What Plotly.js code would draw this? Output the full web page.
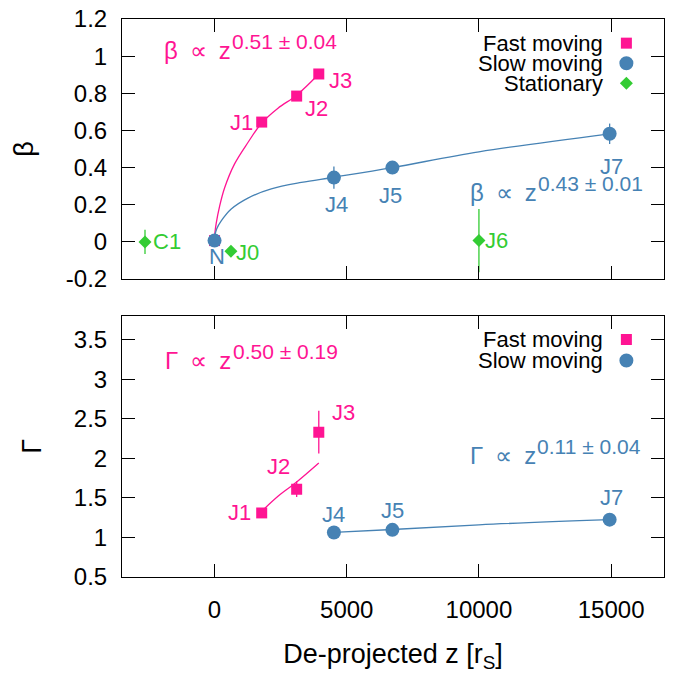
<!DOCTYPE html>
<html>
<head>
<meta charset="utf-8">
<script src="https://cdn.plot.ly/plotly-3.0.1.min.js"></script>
<style>html,body{margin:0;padding:0;background:#fff}</style>
</head>
<body>
<div id="chart" style="width:678px;height:679px"></div>
<script>
// ---------- data ----------
// top panel: beta
const fastNames = ['N', 'J1', 'J2', 'J3'];
const fastZ = [0, 1784, 3106, 3943];
const fastBeta = [0.007, 0.645, 0.785, 0.904];
const fastBetaErr = [0, 0.01, 0.01, 0.01];

const slowNames = ['N', 'J4', 'J5', 'J7'];
const slowZ = [0, 4515, 6727, 14944];
const slowBeta = [0.007, 0.346, 0.40, 0.582];
const slowBetaErr = [0, 0.06, 0.035, 0.055];

const statNames = ['C1', 'J0', 'J6'];
const statZ = [-2630, 620, 10000];
const statBeta = [0.0, -0.05, 0.007];
const statBetaErr = [0.065, 0.01, 0.17];

// fit curves (beta)
const fitFastBetaZ = [0, 15, 63, 189, 379, 758, 1263, 1784, 2400, 3106, 3943];
const fitFastBeta = [0.007, 0.05, 0.10, 0.19, 0.29, 0.42, 0.535, 0.64, 0.72, 0.79, 0.904];
const fitSlowBetaZ = [0, 15, 80, 253, 631, 1263, 2146, 3283, 4515, 6727, 10000, 14944];
const fitSlowBeta = [0.007, 0.035, 0.07, 0.113, 0.177, 0.236, 0.285, 0.32, 0.348, 0.40, 0.485, 0.582];

// bottom panel: Gamma
const fastGNames = ['J1', 'J2', 'J3'];
const fastGZ = [1784, 3106, 3943];
const fastGamma = [1.31, 1.61, 2.33];
const fastGammaErr = [0.02, 0.1, 0.27];

const slowGNames = ['J4', 'J5', 'J7'];
const slowGZ = [4515, 6727, 14944];
const slowGamma = [1.063, 1.096, 1.225];
const slowGammaErr = [0.01, 0.01, 0.02];

const fitFastGammaZ = [1784, 2400, 3106, 3943];
const fitFastGamma = [1.33, 1.52, 1.70, 1.94];
const fitSlowGammaZ = [4515, 6727, 10000, 14944];
const fitSlowGamma = [1.063, 1.10, 1.16, 1.225];

// fit labels (base, exponent)
const fitFastBetaText = ['β\u2002∝\u2002z', '0.51 ± 0.04'];
const fitSlowBetaText = ['β\u2002∝\u2002z', '0.43 ± 0.01'];
const fitFastGammaText = ['Γ\u2002∝\u2002z', '0.50 ± 0.19'];
const fitSlowGammaText = ['Γ\u2002∝\u2002z', '0.11 ± 0.04'];

// axes
const xTickVals = [0, 5000, 10000, 15000];
const xTickText = ['0', '5000', '10000', '15000'];
const betaTickVals = [-0.2, 0, 0.2, 0.4, 0.6, 0.8, 1, 1.2];
const betaTickText = ['-0.2', '0', '0.2', '0.4', '0.6', '0.8', '1', '1.2'];
const gammaTickVals = [0.5, 1, 1.5, 2, 2.5, 3, 3.5];
const gammaTickText = ['0.5', '1', '1.5', '2', '2.5', '3', '3.5'];

const legendTop = ['Fast moving', 'Slow moving', 'Stationary'];
const legendBottom = ['Fast moving', 'Slow moving'];

// ---------- styles ----------
const PINK = '#ff1493', BLUE = '#4682b4', GREEN = '#33cc33';
const FONT = 'Liberation Sans, Arial, Helvetica, sans-serif';

// label offsets (pixels) relative to each point
const betaLabelOff = {
  N: [2, -16], J1: [-20, 0], J2: [20, -12], J3: [22, -7],
  J4: [3, -27], J5: [-2, -28], J7: [2, -33],
  C1: [22, 0], J0: [17, -1], J6: [18, 0]
};
const gammaLabelOff = {
  J1: [-22, 0], J2: [-18, 23], J3: [25, 20],
  J4: [0, 18], J5: [0, 19], J7: [2, 22]
};

const traces = [];
// ---- top panel ----
traces.push({x: fitFastBetaZ, y: fitFastBeta, xaxis: 'x2', yaxis: 'y2', mode: 'lines',
  line: {color: PINK, width: 1.3, shape: 'spline', smoothing: 1}, hoverinfo: 'skip'});
traces.push({x: fitSlowBetaZ, y: fitSlowBeta, xaxis: 'x2', yaxis: 'y2', mode: 'lines',
  line: {color: BLUE, width: 1.3, shape: 'spline', smoothing: 1}, hoverinfo: 'skip'});
traces.push({x: fastZ, y: fastBeta, xaxis: 'x2', yaxis: 'y2', mode: 'markers',
  marker: {symbol: 'square', size: 11, color: PINK},
  error_y: {type: 'data', array: fastBetaErr, color: PINK, thickness: 1.3, width: 0}});
traces.push({x: slowZ, y: slowBeta, xaxis: 'x2', yaxis: 'y2', mode: 'markers',
  marker: {symbol: 'circle', size: 14, color: BLUE},
  error_y: {type: 'data', array: slowBetaErr, color: BLUE, thickness: 1.3, width: 0}});
traces.push({x: statZ, y: statBeta, xaxis: 'x2', yaxis: 'y2', mode: 'markers',
  marker: {symbol: 'diamond', size: 10, color: GREEN},
  error_y: {type: 'data', array: statBetaErr, color: GREEN, thickness: 1.3, width: 0}});

// ---- bottom panel ----
traces.push({x: fitFastGammaZ, y: fitFastGamma, xaxis: 'x', yaxis: 'y', mode: 'lines',
  line: {color: PINK, width: 1.3, shape: 'spline'}, hoverinfo: 'skip'});
traces.push({x: fitSlowGammaZ, y: fitSlowGamma, xaxis: 'x', yaxis: 'y', mode: 'lines',
  line: {color: BLUE, width: 1.3, shape: 'spline'}, hoverinfo: 'skip'});
traces.push({x: fastGZ, y: fastGamma, xaxis: 'x', yaxis: 'y', mode: 'markers',
  marker: {symbol: 'square', size: 11, color: PINK},
  error_y: {type: 'data', array: fastGammaErr, color: PINK, thickness: 1.3, width: 0}});
traces.push({x: slowGZ, y: slowGamma, xaxis: 'x', yaxis: 'y', mode: 'markers',
  marker: {symbol: 'circle', size: 14, color: BLUE},
  error_y: {type: 'data', array: slowGammaErr, color: BLUE, thickness: 1.3, width: 0}});

// ---- annotations ----
const ann = [];
const LBL = 22;
function pointLabels(names, xs, ys, off, color, xa, ya) {
  names.forEach((n, i) => {
    const o = off[n];
    if (!o) return;
    ann.push({x: xs[i], y: ys[i], xref: xa, yref: ya, text: n, showarrow: false,
      xshift: o[0], yshift: o[1], xanchor: 'center', yanchor: 'middle',
      font: {family: FONT, size: LBL, color: color}});
  });
}
pointLabels(['J1', 'J2', 'J3'], fastZ.slice(1), fastBeta.slice(1), betaLabelOff, PINK, 'x2', 'y2');
pointLabels(slowNames, slowZ, slowBeta, betaLabelOff, BLUE, 'x2', 'y2');
pointLabels(statNames, statZ, statBeta, betaLabelOff, GREEN, 'x2', 'y2');
pointLabels(fastGNames, fastGZ, fastGamma, gammaLabelOff, PINK, 'x', 'y');
pointLabels(slowGNames, slowGZ, slowGamma, gammaLabelOff, BLUE, 'x', 'y');

// measure text width for manual superscripts
const cv = document.createElement('canvas').getContext('2d');
function textWidth(t, size) {
  cv.font = size + 'px "Liberation Sans", Arial, sans-serif';
  return cv.measureText(t).width;
}
const BASE_SIZE = 24, EXP_SIZE = 21;
function fitLabel(parts, x, y, xa, ya, color) {
  ann.push({x: x, y: y, xref: xa, yref: ya, text: parts[0], showarrow: false,
    xanchor: 'left', yanchor: 'middle', font: {family: FONT, size: BASE_SIZE, color: color}});
  ann.push({x: x, y: y, xref: xa, yref: ya, text: parts[1], showarrow: false,
    xanchor: 'left', yanchor: 'middle', xshift: textWidth(parts[0], BASE_SIZE) + 1, yshift: 9,
    font: {family: FONT, size: EXP_SIZE, color: color}});
}
fitLabel(fitFastBetaText, -1970, 1.03, 'x2', 'y2', PINK);
fitLabel(fitSlowBetaText, 9584, 0.265, 'x2', 'y2', BLUE);
fitLabel(fitFastGammaText, -1932, 3.24, 'x', 'y', PINK);
fitLabel(fitSlowGammaText, 9568, 2.04, 'x', 'y', BLUE);

// legends (text right aligned, symbol to the right)
const shapes = [];
function legendBlock(labels, colors, symbols, xText, xSym, yStart, ya, dy) {
  labels.forEach((t, i) => {
    const yy = yStart - i * dy;
    ann.push({x: xText, y: yy, xref: 'paper', yref: ya, text: t, showarrow: false,
      xanchor: 'right', yanchor: 'middle', borderpad: 0,
      font: {family: FONT, size: 22, color: 'black'}});
    const s = symbols[i];
    const base = {xref: 'paper', yref: ya, xsizemode: 'pixel', ysizemode: 'pixel',
      xanchor: xSym, yanchor: yy, fillcolor: colors[i], line: {width: 0}};
    if (s === 'square') shapes.push(Object.assign({type: 'rect', x0: -5.5, x1: 5.5, y0: -5.5, y1: 5.5}, base));
    else if (s === 'circle') shapes.push(Object.assign({type: 'circle', x0: -7, x1: 7, y0: -7, y1: 7}, base));
    else shapes.push(Object.assign({type: 'path', path: 'M0,-6.5 L6.5,0 L0,6.5 L-6.5,0 Z'}, base));
  });
}
legendBlock(legendTop, [PINK, BLUE, GREEN], ['square', 'circle', 'diamond'], 0.8893, 0.9306, 1.07, 'y2', 0.108);
legendBlock(legendBottom, [PINK, BLUE], ['square', 'circle'], 0.8893, 0.9306, 3.50, 'y', 0.265);

const axCommon = {
  showline: true, linecolor: 'black', linewidth: 1, mirror: 'ticks',
  ticks: 'inside', ticklen: 13, tickwidth: 1, tickcolor: 'black',
  showgrid: false, zeroline: false, automargin: false,
  tickfont: {family: FONT, size: 24, color: 'black'}
};

const layout = {
  width: 678, height: 679,
  margin: {l: 122, r: 14, t: 19, b: 102},
  paper_bgcolor: '#fff', plot_bgcolor: '#fff',
  showlegend: false,
  font: {family: FONT, size: 20, color: 'black'},
  xaxis: Object.assign({}, axCommon, {domain: [0, 1], anchor: 'y', range: [-3500, 17000],
    tickvals: xTickVals, ticktext: xTickText, ticklabelstandoff: 11,
    title: {text: 'De-projected z [r<sub>S</sub>]', standoff: 22, font: {family: FONT, size: 27}}}),
  yaxis: Object.assign({}, axCommon, {domain: [0, 0.468], anchor: 'x', range: [0.5, 3.8],
    tickvals: gammaTickVals, ticktext: gammaTickText, ticklabelstandoff: 9,
    title: {text: 'Γ', standoff: 24, font: {family: FONT, size: 27}}}),
  xaxis2: Object.assign({}, axCommon, {domain: [0, 1], anchor: 'y2', range: [-3500, 17000],
    tickvals: xTickVals, showticklabels: false}),
  yaxis2: Object.assign({}, axCommon, {domain: [0.534, 1], anchor: 'x2', range: [-0.2, 1.2],
    tickvals: betaTickVals, ticktext: betaTickText, ticklabelstandoff: 9,
    title: {text: 'β', standoff: 24, font: {family: FONT, size: 27}}}),
  annotations: ann,
  shapes: shapes
};

Plotly.newPlot('chart', traces, layout, {displayModeBar: false, staticPlot: true});
</script>
</body>
</html>
